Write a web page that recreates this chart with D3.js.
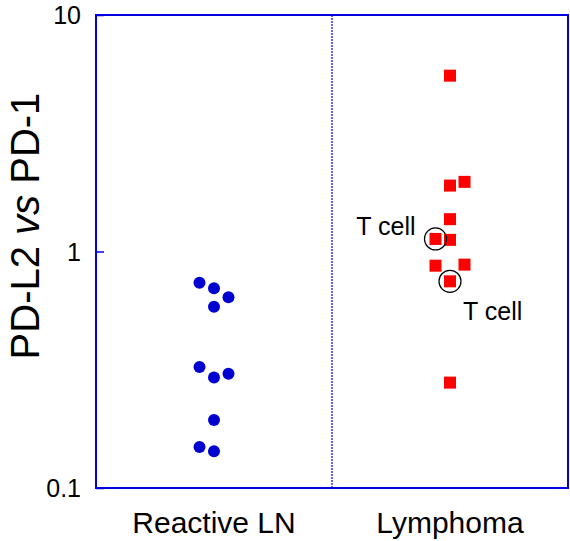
<!DOCTYPE html>
<html>
<head>
<meta charset="utf-8">
<script src="https://cdn.jsdelivr.net/npm/d3@7"></script>
<style>
  html, body { margin: 0; padding: 0; background: #fff; }
  svg { display: block; font-family: "Liberation Sans", Arial, sans-serif; }
</style>
</head>
<body>
<svg id="chart" width="570" height="541"></svg>
<script>
// ---- data ----
const categories = ["Reactive LN", "Lymphoma"];
const yTicks = [0.1, 1, 10];
const yTickLabels = ["0.1", "1", "10"];

const reactiveValues = [0.738, 0.699, 0.640, 0.584, 0.325, 0.304, 0.293, 0.194, 0.149, 0.143];
const reactiveSlots  = [-1, 0, 1, 0, -1, 1, 0, 0, -1, 0];

const lymphomaValues = [5.54, 1.90, 1.97, 1.37, 1.13, 1.12, 0.871, 0.880, 0.748, 0.279];
const lymphomaSlots  = [0, 0, 1, 0, -1, 0, -1, 1, 0, 0];
const lymphomaTcell  = [false, false, false, false, true, false, false, false, true, false];

const annotationText = "T cell";
const yLabelParts = ["PD-L2 ", "vs", " PD-1"];

// ---- layout ----
const svg = d3.select("#chart");
const mLeft = 96, mRight = 568, mTop = 15, mBottom = 488;

const x = d3.scaleBand().domain(categories).range([mLeft, mRight]);
const slot = d3.scaleLinear().domain([-1, 1]).range([-14.5, 14.5]);
const y = d3.scaleLog().domain([0.1, 10]).range([mBottom, mTop]);

const blue = "#0000d0";
const frameBlue = "#0000e0";
const red = "#ff0000";
const font = '"Liberation Sans", Arial, sans-serif';

// divider (dotted)
svg.append("line")
  .attr("x1", x("Lymphoma")).attr("x2", x("Lymphoma"))
  .attr("y1", mTop).attr("y2", mBottom)
  .attr("stroke", frameBlue).attr("stroke-width", 1.2)
  .attr("stroke-dasharray", "2,1");

// y axis
const yAxis = d3.axisLeft(y)
  .tickValues(yTicks)
  .tickFormat((d, i) => yTickLabels[i])
  .tickSizeInner(-8).tickSizeOuter(0).tickPadding(15);
const gy = svg.append("g").attr("transform", `translate(${mLeft},0)`).call(yAxis);
gy.select(".domain").remove();
gy.selectAll(".tick line").attr("stroke", frameBlue).attr("stroke-width", 1.5);
gy.selectAll(".tick text").attr("font-size", 25).attr("fill", "#000")
  .attr("font-family", font).attr("dy", "0.34em");

// x axis
const xAxis = d3.axisBottom(x).tickSize(0).tickPadding(24);
const gx = svg.append("g").attr("transform", `translate(0,${mBottom})`).call(xAxis);
gx.select(".domain").remove();
gx.selectAll(".tick text").attr("font-size", 30).attr("fill", "#000").attr("font-family", font);

// frame
svg.append("rect")
  .attr("x", mLeft).attr("y", mTop)
  .attr("width", mRight - mLeft).attr("height", mBottom - mTop)
  .attr("fill", "none").attr("stroke", frameBlue).attr("stroke-width", 2);

// y label
const yl = svg.append("text")
  .attr("transform", `translate(39,226) rotate(-90)`)
  .attr("text-anchor", "middle")
  .attr("font-size", 40).attr("font-family", font).attr("fill", "#000");
yl.append("tspan").text(yLabelParts[0]);
yl.append("tspan").attr("font-style", "italic").text(yLabelParts[1]);
yl.append("tspan").text(yLabelParts[2]);

// reactive LN points
const cx0 = x("Reactive LN") + x.bandwidth() / 2;
svg.append("g").selectAll("circle")
  .data(reactiveValues.map((v, i) => ({ v, s: reactiveSlots[i] })))
  .join("circle")
  .attr("cx", d => cx0 + slot(d.s))
  .attr("cy", d => y(d.v))
  .attr("r", 6)
  .attr("fill", blue);

// lymphoma points
const cx1 = x("Lymphoma") + x.bandwidth() / 2;
const lymData = lymphomaValues.map((v, i) => ({ v, s: lymphomaSlots[i], t: lymphomaTcell[i] }));
svg.append("g").selectAll("rect")
  .data(lymData)
  .join("rect")
  .attr("x", d => cx1 + slot(d.s) - 6)
  .attr("y", d => y(d.v) - 6)
  .attr("width", 12).attr("height", 12)
  .attr("fill", red);

// T cell annotation circles
const tData = lymData.filter(d => d.t);
svg.append("g").selectAll("circle")
  .data(tData)
  .join("circle")
  .attr("cx", d => cx1 + slot(d.s))
  .attr("cy", d => y(d.v))
  .attr("r", 11)
  .attr("fill", "none").attr("stroke", "#000").attr("stroke-width", 1.2);

// T cell labels
svg.append("text")
  .attr("x", cx1 + slot(tData[0].s) - 20).attr("y", y(tData[0].v) - 4)
  .attr("text-anchor", "end")
  .attr("font-size", 25).attr("font-family", font).attr("fill", "#000")
  .text(annotationText);
svg.append("text")
  .attr("x", cx1 + slot(tData[1].s) + 13).attr("y", y(tData[1].v) + 39)
  .attr("text-anchor", "start")
  .attr("font-size", 25).attr("font-family", font).attr("fill", "#000")
  .text(annotationText);
</script>
</body>
</html>
